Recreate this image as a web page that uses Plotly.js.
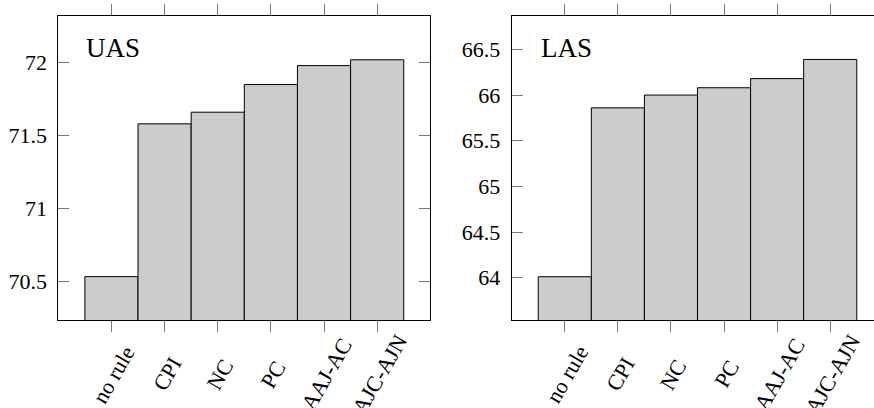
<!DOCTYPE html>
<html>
<head>
<meta charset="utf-8">
<script src="https://cdn.plot.ly/plotly-3.0.1.min.js"></script>
<style>html,body{margin:0;padding:0;background:#fff;}#chart{width:874px;height:408px;}</style>
</head>
<body>
<div id="chart"></div>
<script>
const categories = ['no rule', 'CPI', 'NC', 'PC', 'AAJ-AC', 'AJC-AJN'];
const uasValues = [70.53, 71.58, 71.66, 71.85, 71.98, 72.02];
const lasValues = [64.01, 65.86, 66.00, 66.08, 66.18, 66.39];
const uasTicks = [70.5, 71, 71.5, 72];
const uasTickText = ['70.5', '71', '71.5', '72'];
const lasTicks = [64, 64.5, 65, 65.5, 66, 66.5];
const lasTickText = ['64', '64.5', '65', '65.5', '66', '66.5'];
const panelTitles = ['UAS', 'LAS'];

const FONT = '"Liberation Serif", serif';
const barStyle = {color: '#cccccc', line: {color: '#000', width: 1}};

const traces = [
  {type: 'bar', x: categories, y: uasValues, xaxis: 'x', yaxis: 'y', width: 1, marker: barStyle, hoverinfo: 'skip'},
  {type: 'bar', x: categories, y: lasValues, xaxis: 'x2', yaxis: 'y2', width: 1, marker: barStyle, hoverinfo: 'skip'}
];

const xCommon = {
  type: 'category', showline: true, linecolor: '#000', linewidth: 1,
  ticks: 'outside', ticklen: 11, tickcolor: '#777', tickwidth: 1,
  showticklabels: false,
  showgrid: false, zeroline: false, fixedrange: true
};
const yCommon = {
  showline: true, linecolor: '#000', linewidth: 1,
  ticks: 'inside', ticklen: 11, tickcolor: '#777', tickwidth: 1,
  tickfont: {family: FONT, size: 22, color: '#000'},
  showgrid: false, zeroline: false, tickmode: 'array', ticklabelstandoff: 6, fixedrange: true
};

// rotated category labels, centred under each tick (pgfplots style)
const labelAnns = [];
['x', 'x2'].forEach(function (ax) {
  categories.forEach(function (c) {
    labelAnns.push({
      text: c, xref: ax, yref: 'paper', x: c, y: (408 - 374) / 408,
      xanchor: 'center', yanchor: 'middle', xshift: 2, textangle: -60,
      showarrow: false, font: {family: FONT, size: 22, color: '#000'}
    });
  });
});

const layout = {
  width: 874, height: 408,
  margin: {l: 0, r: 0, t: 0, b: 0},
  paper_bgcolor: '#fff', plot_bgcolor: '#fff',
  font: {family: FONT},
  showlegend: false, bargap: 0,
  xaxis: Object.assign({}, xCommon, {domain: [58.3/874, 430.3/874], range: [-1, 6], mirror: 'ticks', anchor: 'y'}),
  yaxis: Object.assign({}, yCommon, {domain: [87.7/408, 392.3/408], range: [70.230, 72.323], mirror: 'ticks', tickvals: uasTicks, ticktext: uasTickText, anchor: 'x'}),
  xaxis2: Object.assign({}, xCommon, {domain: [511.7/874, 1], range: [-1, 5.825], mirror: 'ticks', anchor: 'y2'}),
  yaxis2: Object.assign({}, yCommon, {domain: [87.7/408, 392.3/408], range: [63.533, 66.869], mirror: false, tickvals: lasTicks, ticktext: lasTickText, anchor: 'x2'}),
  annotations: [
    {text: panelTitles[0], xref: 'paper', yref: 'paper', x: 84/874, y: (408-48)/408, xanchor: 'left', yanchor: 'middle', showarrow: false, font: {family: FONT, size: 27, color: '#000'}},
    {text: panelTitles[1], xref: 'paper', yref: 'paper', x: 539/874, y: (408-48)/408, xanchor: 'left', yanchor: 'middle', showarrow: false, font: {family: FONT, size: 27, color: '#000'}}
  ].concat(labelAnns)
};

Plotly.newPlot('chart', traces, layout, {displayModeBar: false, staticPlot: true});
</script>
</body>
</html>
